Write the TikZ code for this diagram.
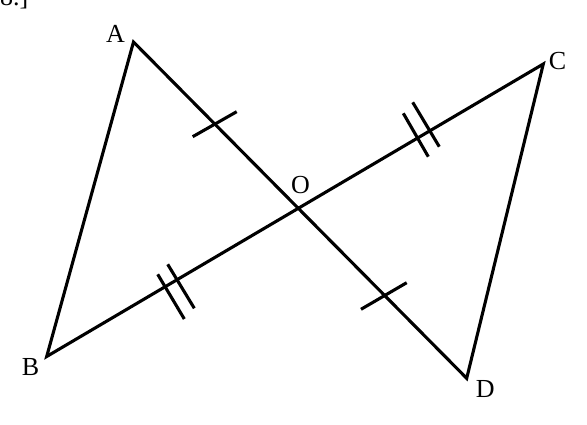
\documentclass[tikz,border=0pt]{standalone}
\usepackage{fontspec}
\setmainfont{Liberation Serif}
\begin{document}
\begin{tikzpicture}[x=1pt,y=-1pt,
  seg/.style={line width=3.1pt,line cap=round,line join=miter},
  tick/.style={line width=3.1pt},
  lab/.style={anchor=base,inner sep=0pt,font=\fontsize{26}{31}\selectfont}]
\useasboundingbox (0,0) rectangle (587,425);
\clip (0,0) rectangle (587,425);
% vertices
\coordinate (A) at (133.5,42);
\coordinate (B) at (46.7,356.5);
\coordinate (C) at (543.3,64);
\coordinate (D) at (466.7,378.3);
\coordinate (O) at (298.4,208.4);
% triangle sides
\draw[seg] (B) -- (A) -- (D) -- (C) -- (B) -- cycle;
% single ticks
\coordinate (t1a) at (192.7,136.7); \coordinate (t1b) at (236.7,111.7);
\coordinate (t2a) at (361,309.3);   \coordinate (t2b) at (406.7,282.7);
\draw[tick] (t1a) -- (t1b);
\draw[tick] (t2a) -- (t2b);
% double ticks on OC
\coordinate (d1a) at (403.3,113.3); \coordinate (d1b) at (428.3,156.7);
\coordinate (d2a) at (412.7,102.3); \coordinate (d2b) at (439.3,146.7);
\draw[tick] (d1a) -- (d1b);
\draw[tick] (d2a) -- (d2b);
% double ticks on OB
\coordinate (e1a) at (157.7,274.3); \coordinate (e1b) at (184.3,319);
\coordinate (e2a) at (167.7,264.3); \coordinate (e2b) at (194.3,308.3);
\draw[tick] (e1a) -- (e1b);
\draw[tick] (e2a) -- (e2b);
% labels
\node[lab] (lA) at (115.5,42.7) {A};
\node[lab] (lO) at (300.5,194) {O};
\node[lab] (lC) at (557.5,69.3) {C};
\node[lab] (lB) at (30.5,375) {B};
\node[lab] (lD) at (485.3,397.3) {D};
% cropped caption fragment at top-left (cut off in the reference too)
\node[anchor=base west,inner sep=0pt,font=\fontsize{26}{31}\selectfont] (cap) at (0,5.5) {8.]};
\end{tikzpicture}
\end{document}
